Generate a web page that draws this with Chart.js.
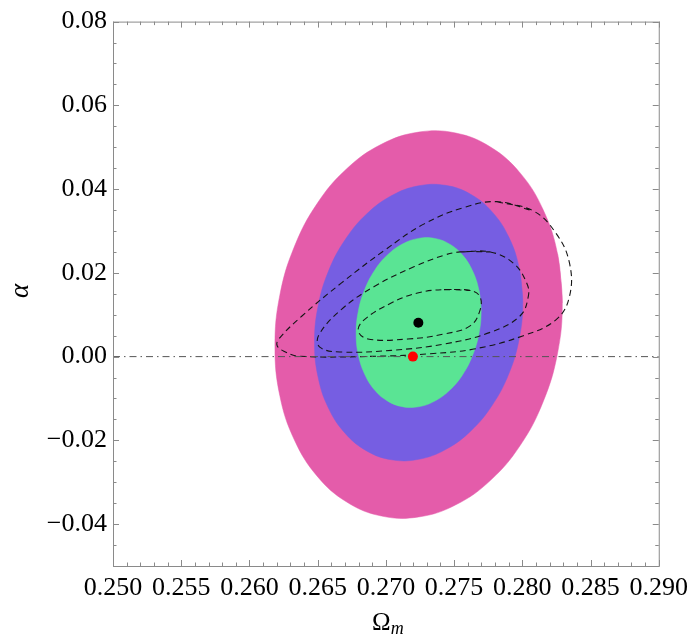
<!DOCTYPE html>
<html>
<head>
<meta charset="utf-8">
<script src="https://cdn.jsdelivr.net/npm/chart.js@4.4.1/dist/chart.umd.min.js"></script>
<style>
  html, body { margin: 0; padding: 0; background: #fff; }
  #wrap { width: 695px; height: 642px; }
</style>
</head>
<body>
<div id="wrap"><canvas id="contours" width="695" height="642"></canvas></div>
<script>
// tick labels
const xTicks = [0.25, 0.255, 0.26, 0.265, 0.27, 0.275, 0.28, 0.285, 0.29];
const yTicks = [-0.04, -0.02, 0, 0.02, 0.04, 0.06, 0.08];

// filled contours (outer -> inner)
const pinkX = [0.28293, 0.28258, 0.28152, 0.27985, 0.27767, 0.27513, 0.2724, 0.26967, 0.26713, 0.26495, 0.26328, 0.26222,
  0.26187, 0.26222, 0.26328, 0.26495, 0.26713, 0.26967, 0.2724, 0.27513, 0.27767, 0.27985, 0.28152, 0.28258];
const pinkY = [0.01284, 0.02456, 0.03512, 0.04381, 0.05004, 0.05338, 0.05361, 0.0507, 0.04486, 0.03649, 0.02615, 0.01455,
  0.00248, -0.00924, -0.0198, -0.02849, -0.03472, -0.03806, -0.03829, -0.03538, -0.02954, -0.02117, -0.01083, 0.00077];

const purpleX = [0.28003, 0.27977, 0.27901, 0.27779, 0.27621, 0.27437, 0.2724, 0.27043, 0.26859, 0.26701, 0.26579, 0.26503,
  0.26477, 0.26503, 0.26579, 0.26701, 0.26859, 0.27043, 0.2724, 0.27437, 0.27621, 0.27779, 0.27901, 0.27977];
const purpleY = [0.01284, 0.02114, 0.02854, 0.03456, 0.03877, 0.0409, 0.04079, 0.03846, 0.03406, 0.02789, 0.02038, 0.01203,
  0.00342, -0.00488, -0.01228, -0.01829, -0.02251, -0.02464, -0.02453, -0.0222, -0.0178, -0.01163, -0.00412, 0.00423];

const greenX = [0.27698, 0.27682, 0.27636, 0.27564, 0.27469, 0.27359, 0.2724, 0.27121, 0.27011, 0.26916, 0.26844, 0.26798,
  0.26782, 0.26798, 0.26844, 0.26916, 0.27011, 0.27121, 0.2724, 0.27359, 0.27469, 0.27564, 0.27636, 0.27682];
const greenY = [0.01072, 0.01584, 0.02043, 0.02418, 0.02683, 0.02822, 0.02823, 0.02687, 0.02424, 0.02051, 0.01594, 0.01083,
  0.00554, 0.00042, -0.00417, -0.00792, -0.01057, -0.01196, -0.01197, -0.01061, -0.00798, -0.00425, 0.00033, 0.00543];

// dashed contours
const dash3X = [0.27814, 0.2808, 0.2825, 0.28346, 0.28346, 0.2825, 0.28008, 0.27644, 0.27327, 0.26942,
  0.26361, 0.26252, 0.26203, 0.26215, 0.26385, 0.26675, 0.26991, 0.27281, 0.27572];
const dash3Y = [0.037, 0.0348, 0.0293, 0.0223, 0.0144, 0.0089, 0.005, 0.0018, 0.0007, 0.0001,
  0.0001, 0.0013, 0.0026, 0.0042, 0.0097, 0.0176, 0.0254, 0.0317, 0.0356];

const dash2X = [0.27545, 0.27765, 0.27935, 0.28032, 0.28044, 0.27983, 0.27765, 0.27426, 0.27039, 0.26675,
  0.26518, 0.26506, 0.26675, 0.26918, 0.27209, 0.27426];
const dash2Y = [0.025, 0.025, 0.0223, 0.0176, 0.0144, 0.0097, 0.0058, 0.003, 0.0015, 0.0011,
  0.0022, 0.005, 0.0113, 0.0168, 0.0215, 0.0242];

const dash1X = [0.27426, 0.2762, 0.27688, 0.27692, 0.2762, 0.27426, 0.2716, 0.26869, 0.26797, 0.26845, 0.27039, 0.27232];
const dash1Y = [0.016, 0.0158, 0.0144, 0.0113, 0.0074, 0.0054, 0.0042, 0.0042, 0.0062, 0.0089, 0.0128, 0.0152];

// best fit and reference points
const bestX = [0.27238];
const bestY = [0.0081];
const refX = [0.27198];
const refY = [0.0];
const zeroLineX = [0.25, 0.29];
const zeroLineY = [0, 0];

const toPoints = (xs, ys) => xs.map((x, i) => ({ x: x, y: ys[i] }));
// repeat the first two points so the smoothed curve closes without a corner
const closed = (xs, ys) => {
  const pts = toPoints(xs, ys);
  return pts.concat(pts.slice(0, 2));
};

const serif = "'Liberation Serif', 'DejaVu Serif', serif";

const framePlugin = {
  id: "frame",
  afterDraw(chart) {
    const { ctx, chartArea: a, scales } = chart;
    ctx.save();
    ctx.strokeStyle = "#8a8a8a";
    ctx.lineWidth = 1;
    ctx.strokeRect(a.left + 0.5, a.top + 0.5, a.right - a.left, a.bottom - a.top);
    ctx.beginPath();
    for (let i = 0; i <= 40; i++) {
      const px = Math.round(scales.x.getPixelForValue(0.25 + i * 0.001)) + 0.5;
      const len = i % 5 === 0 ? 6 : 3.5;
      ctx.moveTo(px, a.bottom);
      ctx.lineTo(px, a.bottom - len);
      ctx.moveTo(px, a.top);
      ctx.lineTo(px, a.top + len);
    }
    for (let j = 0; j <= 26; j++) {
      const py = Math.round(scales.y.getPixelForValue(-0.05 + j * 0.005)) + 0.5;
      const len = j % 4 === 2 ? 6 : 3.5;
      ctx.moveTo(a.left, py);
      ctx.lineTo(a.left + len, py);
      ctx.moveTo(a.right, py);
      ctx.lineTo(a.right - len, py);
    }
    ctx.stroke();

    // axis titles
    ctx.fillStyle = "#000";
    ctx.textBaseline = "alphabetic";
    ctx.font = "25px " + serif;
    const omegaW = ctx.measureText("\u03A9").width;
    ctx.font = "italic 18px " + serif;
    const mW = ctx.measureText("m").width;
    const cx = (a.left + a.right) / 2;
    const startX = cx - (omegaW + mW) / 2 + 2;
    ctx.font = "25px " + serif;
    ctx.fillText("\u03A9", startX, 630);
    ctx.font = "italic 18px " + serif;
    ctx.fillText("m", startX + omegaW, 634);

    ctx.translate(28, 291);
    ctx.rotate(-Math.PI / 2);
    ctx.font = "italic 27px " + serif;
    ctx.textAlign = "center";
    ctx.fillText("\u03B1", 0, 0);
    ctx.restore();
  },
};

const filled = (xs, ys, color, order) => ({
  data: closed(xs, ys),
  showLine: true,
  fill: "shape",
  backgroundColor: color,
  borderColor: color,
  borderWidth: 0.5,
  pointRadius: 0,
  tension: 0.4,
  order: order,
});

const dashed = (xs, ys, order) => ({
  data: closed(xs, ys),
  showLine: true,
  borderColor: "#151515",
  borderWidth: 1.1,
  borderDash: [6, 4],
  pointRadius: 0,
  tension: 0.4,
  order: order,
});

new Chart(document.getElementById("contours"), {
  type: "scatter",
  data: {
    datasets: [
      filled(pinkX, pinkY, "rgb(228, 92, 170)", 10),
      filled(purpleX, purpleY, "rgb(118, 94, 226)", 9),
      filled(greenX, greenY, "rgb(90, 228, 148)", 8),
      dashed(dash3X, dash3Y, 6),
      dashed(dash2X, dash2Y, 5),
      dashed(dash1X, dash1Y, 4),
      {
        data: toPoints(zeroLineX, zeroLineY),
        showLine: true,
        borderColor: "#555",
        borderWidth: 1,
        borderDash: [7, 4, 1.5, 4],
        pointRadius: 0,
        order: 3,
      },
      {
        data: toPoints(bestX, bestY),
        backgroundColor: "#000",
        borderWidth: 0,
        pointRadius: 5,
        order: 2,
      },
      {
        data: toPoints(refX, refY),
        backgroundColor: "#ff0000",
        borderWidth: 0,
        pointRadius: 5,
        order: 1,
      },
    ],
  },
  options: {
    responsive: false,
    animation: false,
    layout: { padding: { top: 15, right: 32, left: 0, bottom: 0 } },
    scales: {
      x: {
        type: "linear",
        min: 0.25,
        max: 0.29,
        afterBuildTicks: (scale) => {
          scale.ticks = xTicks.map((v) => ({ value: v }));
        },
        afterFit: (scale) => {
          scale.height = 76;
        },
        ticks: {
          color: "#000",
          padding: 7,
          maxRotation: 0,
          autoSkip: false,
          font: { family: serif, size: 26 },
          callback: (v) => v.toFixed(3),
        },
        grid: { display: false, drawTicks: false },
        border: { display: false },
      },
      y: {
        type: "linear",
        min: -0.05,
        max: 0.08,
        afterBuildTicks: (scale) => {
          scale.ticks = yTicks.map((v) => ({ value: v }));
        },
        afterFit: (scale) => {
          scale.width = 113;
        },
        ticks: {
          color: "#000",
          padding: 6,
          autoSkip: false,
          font: { family: serif, size: 26 },
          callback: (v) => (v < 0 ? "\u2212" + Math.abs(v).toFixed(2) : v.toFixed(2)),
        },
        grid: { display: false, drawTicks: false },
        border: { display: false },
      },
    },
    plugins: {
      legend: { display: false },
      tooltip: { enabled: false },
    },
  },
  plugins: [framePlugin],
});
</script>
</body>
</html>
